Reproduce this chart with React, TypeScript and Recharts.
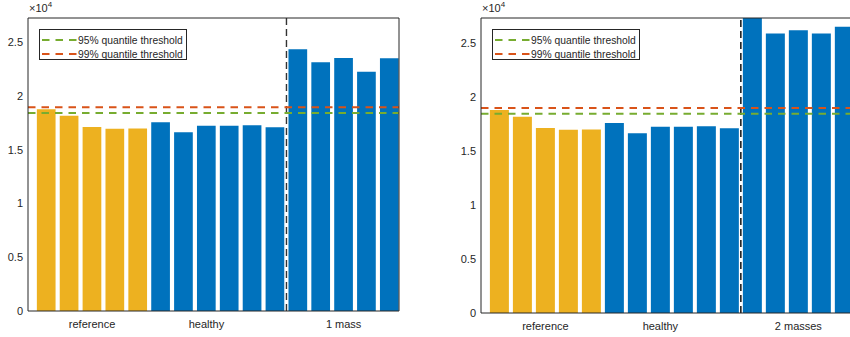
import React from 'react';
import { BarChart, Bar, XAxis, YAxis, Cell, ReferenceLine } from 'recharts';

// ---- data ----
const referenceValues = [18770, 18150, 17110, 16950, 16970];
const healthyValues = [17560, 16630, 17220, 17220, 17280, 17090];
const oneMassValues = [24350, 23140, 23540, 22240, 23510];
const twoMassValues = [28500, 25840, 26140, 25840, 26460];
const threshold95 = 18420;
const threshold99 = 18960;
const xTickPositions = [3, 8, 14];
const leftTickLabels = ['reference', 'healthy', '1 mass'];
const rightTickLabels = ['reference', 'healthy', '2 masses'];
const yTicks = [0, 5000, 10000, 15000, 20000, 25000];
const legendLabels = ['95% quantile threshold', '99% quantile threshold'];

const YELLOW = '#EDB120';
const BLUE = '#0072BD';
const GREEN = '#77AC30';
const RED = '#D95319';
const AXIS = '#262626';
const FONT = '"Liberation Sans", Arial, Helvetica, sans-serif';

type Row = { x: number; value: number; group: string };

function buildRows(massValues: number[]): Row[] {
  const rows: Row[] = [];
  referenceValues.forEach((v) => rows.push({ x: rows.length + 1, value: v, group: 'reference' }));
  healthyValues.forEach((v) => rows.push({ x: rows.length + 1, value: v, group: 'healthy' }));
  massValues.forEach((v) => rows.push({ x: rows.length + 1, value: v, group: 'mass' }));
  return rows;
}

const X_DOMAIN: [number, number] = [0.2, 16.42];
const SEPARATOR_X = 11.5;

type PanelProps = {
  left: number;
  width: number;
  height: number;
  yAxisWidth: number;
  xAxisHeight: number;
  marginRight: number;
  marginTop: number;
  yMax: number;
  barSize: number;
  massValues: number[];
  tickLabels: string[];
  sepColor: string;
};

function Panel(p: PanelProps) {
  const data = buildRows(p.massValues);
  const fmtY = (v: number) => String(v / 10000);
  const fmtX = (v: number) => {
    const i = xTickPositions.indexOf(v);
    return i >= 0 ? p.tickLabels[i] : '';
  };
  const tickStyle = { fontSize: 11, fill: AXIS, fontFamily: FONT };
  return (
    <div style={{ position: 'absolute', left: p.left, top: 0, width: p.width, height: p.height }}>
      <BarChart
        width={p.width}
        height={p.height}
        data={data}
        margin={{ top: p.marginTop, right: p.marginRight, bottom: 0, left: 0 }}
      >
        <XAxis
          xAxisId="b"
          dataKey="x"
          type="number"
          domain={X_DOMAIN}
          allowDataOverflow
          ticks={xTickPositions}
          tickFormatter={fmtX}
          tickLine={false}
          tickSize={0}
          tickMargin={9}
          height={p.xAxisHeight}
          axisLine={{ stroke: AXIS, strokeWidth: 1 }}
          tick={tickStyle}
        />
        <XAxis
          xAxisId="bm"
          dataKey="x"
          type="number"
          domain={X_DOMAIN}
          allowDataOverflow
          ticks={xTickPositions}
          mirror
          height={1}
          tick={false}
          tickSize={4}
          tickLine={{ stroke: AXIS }}
          axisLine={false}
        />
        <XAxis
          xAxisId="t"
          orientation="top"
          dataKey="x"
          type="number"
          domain={X_DOMAIN}
          allowDataOverflow
          ticks={xTickPositions}
          mirror
          height={1}
          tick={false}
          tickSize={4}
          tickLine={{ stroke: AXIS }}
          axisLine={{ stroke: AXIS, strokeWidth: 1 }}
        />
        <YAxis
          yAxisId="l"
          domain={[0, p.yMax]}
          allowDataOverflow
          ticks={yTicks}
          tickFormatter={fmtY}
          width={p.yAxisWidth}
          tickLine={false}
          tickSize={0}
          tickMargin={5}
          axisLine={{ stroke: AXIS, strokeWidth: 1 }}
          tick={tickStyle}
        />
        <YAxis
          yAxisId="lm"
          domain={[0, p.yMax]}
          allowDataOverflow
          ticks={yTicks}
          mirror
          width={1}
          tick={false}
          tickSize={4}
          tickLine={{ stroke: AXIS }}
          axisLine={false}
        />
        <YAxis
          yAxisId="r"
          orientation="right"
          domain={[0, p.yMax]}
          allowDataOverflow
          ticks={yTicks}
          mirror
          width={1}
          tick={false}
          tickSize={4}
          tickLine={{ stroke: AXIS }}
          axisLine={{ stroke: AXIS, strokeWidth: 1 }}
        />
        <Bar
          xAxisId="b"
          yAxisId="l"
          dataKey="value"
          barSize={p.barSize}
          isAnimationActive={false}
        >
          {data.map((d, i) => (
            <Cell key={i} fill={d.group === 'reference' ? YELLOW : BLUE} />
          ))}
        </Bar>
        <ReferenceLine
          xAxisId="b"
          yAxisId="l"
          x={SEPARATOR_X}
          stroke={p.sepColor}
          strokeWidth={1.4}
          strokeDasharray="7 4"
        />
        <ReferenceLine
          xAxisId="b"
          yAxisId="l"
          y={threshold99}
          stroke={RED}
          strokeWidth={2}
          strokeDasharray="7.5 6"
        />
        <ReferenceLine
          xAxisId="b"
          yAxisId="l"
          y={threshold95}
          stroke={GREEN}
          strokeWidth={2}
          strokeDasharray="7.5 6"
        />
      </BarChart>
      <div
        style={{
          position: 'absolute',
          left: p.yAxisWidth + 1,
          top: 1,
          fontFamily: FONT,
          fontSize: 11,
          color: AXIS,
          whiteSpace: 'nowrap',
          lineHeight: '14px',
        }}
      >
        ×10
        <span style={{ fontSize: 8, position: 'relative', top: -5 }}>4</span>
      </div>
      <div
        style={{
          position: 'absolute',
          left: p.yAxisWidth + 11,
          top: 29,
          width: 148,
          height: 31,
          border: `1px solid ${AXIS}`,
          background: '#fff',
          boxSizing: 'border-box',
          fontFamily: FONT,
          fontSize: 10.3,
          color: AXIS,
        }}
      >
        {legendLabels.map((lab, i) => (
          <div
            key={lab}
            style={{ position: 'absolute', left: 2, top: 3 + i * 14, height: 14, display: 'flex', alignItems: 'center', whiteSpace: 'nowrap' }}
          >
            <svg width={35} height={6} style={{ display: 'block' }}>
              <line x1={0} y1={3} x2={35} y2={3} stroke={i === 0 ? GREEN : RED} strokeWidth={2} strokeDasharray="7.5 6" />
            </svg>
            <span style={{ marginLeft: 1 }}>{lab}</span>
          </div>
        ))}
      </div>
    </div>
  );
}

export default function App() {
  return (
    <div
      style={{
        position: 'absolute',
        left: 0,
        top: 0,
        width: 850,
        height: 337,
        overflow: 'hidden',
        background: '#fff',
      }}
    >
      <Panel
        left={0}
        width={410}
        height={337}
        yAxisWidth={28}
        xAxisHeight={26}
        marginRight={11}
        marginTop={18}
        yMax={27250}
        barSize={18.7}
        massValues={oneMassValues}
        tickLabels={leftTickLabels}
        sepColor="#333333"
      />
      <Panel
        left={430}
        width={436}
        height={337}
        yAxisWidth={51}
        xAxisHeight={24}
        marginRight={12}
        marginTop={18}
        yMax={27280}
        barSize={19}
        massValues={twoMassValues}
        tickLabels={rightTickLabels}
        sepColor="#000000"
      />
    </div>
  );
}
